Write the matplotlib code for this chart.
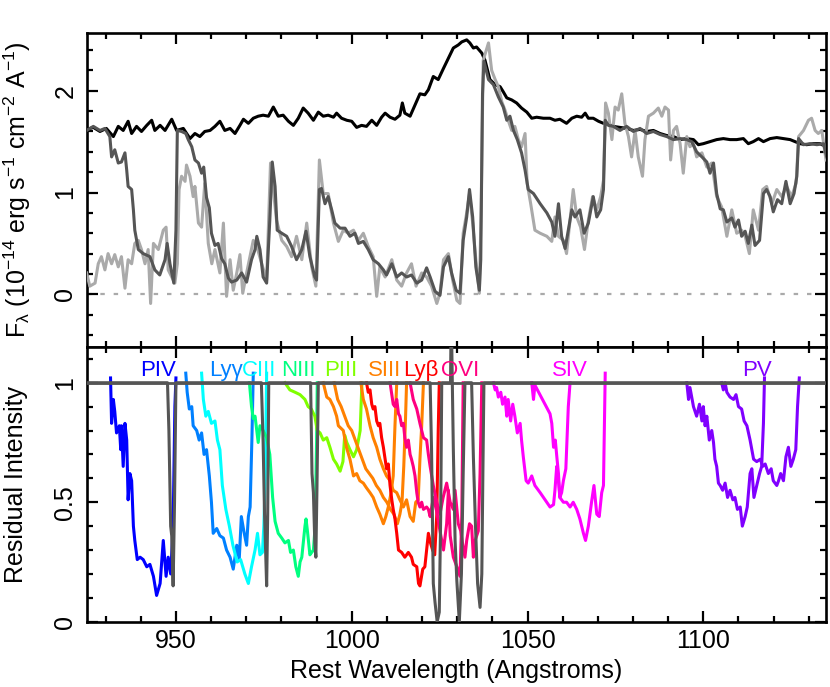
import numpy as np
import matplotlib
matplotlib.use('Agg')
import matplotlib.pyplot as plt
from matplotlib.ticker import MultipleLocator

plt.rcParams['font.family'] = ['Liberation Sans', 'DejaVu Sans']
plt.rcParams['mathtext.fontset'] = 'custom'
plt.rcParams['mathtext.rm'] = 'Liberation Sans'
plt.rcParams['mathtext.it'] = 'Liberation Sans:italic'
plt.rcParams['mathtext.default'] = 'regular'

# ---- top panel: flux spectra (wavelength, flux) ----
continuum = np.array([
    (924.7, 1.62), (926.5, 1.64), (928.4, 1.60), (930.2, 1.63), (932.2, 1.55), (933.6, 1.65), (935.0, 1.61),
    (936.4, 1.70), (937.4, 1.58), (938.8, 1.65), (940.2, 1.60), (941.7, 1.66), (943.1, 1.71), (944.0, 1.61),
    (945.5, 1.66), (946.9, 1.61), (948.8, 1.72), (950.2, 1.61), (952.1, 1.63), (954.0, 1.53), (955.4, 1.58),
    (956.8, 1.55), (958.2, 1.60), (959.7, 1.61), (961.1, 1.65), (962.5, 1.70), (963.9, 1.61), (965.4, 1.63),
    (966.8, 1.58), (968.2, 1.66), (969.2, 1.72), (970.6, 1.68), (972.0, 1.73), (973.4, 1.75), (974.8, 1.76),
    (976.3, 1.75), (977.7, 1.84), (979.1, 1.75), (980.5, 1.76), (982.0, 1.70), (983.4, 1.66), (984.8, 1.73),
    (986.2, 1.83), (987.6, 1.78), (989.1, 1.71), (990.5, 1.79), (991.9, 1.75), (993.3, 1.76), (994.8, 1.74),
    (995.7, 1.78), (997.1, 1.73), (998.6, 1.71), (1000.0, 1.70), (1001.4, 1.64), (1002.8, 1.66), (1004.2, 1.65),
    (1005.7, 1.71), (1007.1, 1.66), (1008.5, 1.74), (1009.5, 1.78), (1010.9, 1.74), (1012.3, 1.72), (1013.7, 1.76),
    (1014.4, 1.88), (1015.1, 1.78), (1016.6, 1.75), (1018.0, 1.86), (1019.4, 1.97), (1020.8, 1.96), (1021.8, 2.01),
    (1023.2, 2.14), (1024.6, 2.11), (1026.1, 2.22), (1027.5, 2.32), (1028.9, 2.42), (1030.3, 2.45), (1031.3, 2.48),
    (1032.7, 2.50), (1033.6, 2.47), (1034.6, 2.42), (1035.5, 2.43), (1037.0, 2.37), (1037.9, 2.30), (1039.3, 2.11),
    (1040.8, 2.06), (1042.2, 2.04), (1043.1, 1.99), (1044.1, 1.93), (1045.5, 1.91), (1046.9, 1.88), (1048.3, 1.83),
    (1049.8, 1.79), (1051.2, 1.73), (1052.6, 1.74), (1054.5, 1.73), (1056.4, 1.73), (1057.8, 1.71), (1059.2, 1.72),
    (1061.1, 1.68), (1062.6, 1.73), (1064.0, 1.75), (1065.4, 1.74), (1066.4, 1.78), (1067.3, 1.73), (1068.7, 1.73),
    (1070.2, 1.70), (1071.6, 1.68), (1073.0, 1.67), (1074.4, 1.65), (1076.3, 1.64), (1078.2, 1.63), (1080.1, 1.61),
    (1082.0, 1.62), (1083.9, 1.60), (1085.8, 1.61), (1087.7, 1.58), (1089.6, 1.56), (1091.5, 1.55), (1093.4, 1.52),
    (1095.3, 1.53), (1097.2, 1.52), (1098.6, 1.47), (1100.0, 1.48), (1101.9, 1.50), (1103.8, 1.52), (1105.7, 1.53),
    (1107.6, 1.52), (1109.5, 1.52), (1111.4, 1.53), (1112.8, 1.48), (1114.2, 1.50), (1115.7, 1.53), (1117.1, 1.50),
    (1119.0, 1.53), (1120.9, 1.54), (1122.8, 1.53), (1124.7, 1.52), (1126.1, 1.50), (1127.5, 1.48), (1129.4, 1.47),
    (1131.3, 1.48), (1133.2, 1.48), (1134.9, 1.45)])

epoch_dark = np.array([
    (924.6, 1.61), (926.5, 1.65), (928.4, 1.61), (929.8, 1.63), (931.2, 1.55), (931.7, 1.35), (932.6, 1.42),
    (933.6, 1.29), (934.5, 1.30), (935.5, 1.39), (936.0, 1.22), (936.4, 1.06), (937.4, 1.03), (937.9, 0.83),
    (938.3, 0.63), (939.3, 0.44), (940.7, 0.40), (942.6, 0.37), (944.0, 0.24), (945.4, 0.19), (946.9, 0.34),
    (947.5, 0.50), (948.3, 0.30), (949.4, 0.11), (950.0, 0.63), (950.4, 1.61), (951.6, 1.60), (952.8, 1.58),
    (953.5, 1.52), (954.5, 1.45), (955.4, 1.32), (956.4, 1.29), (957.3, 1.19), (957.9, 1.25), (958.7, 0.95),
    (959.5, 0.85), (960.1, 0.60), (961.1, 0.48), (962.0, 0.50), (963.0, 0.35), (963.9, 0.30), (964.9, 0.16),
    (965.8, 0.12), (967.3, 0.14), (968.7, 0.21), (970.1, 0.12), (971.5, 0.34), (972.5, 0.44), (973.0, 0.57),
    (973.9, 0.44), (974.8, 0.17), (975.8, 0.11), (976.7, 0.73), (977.4, 1.30), (978.2, 1.06), (978.8, 0.63),
    (980.1, 0.60), (981.5, 0.57), (982.9, 0.47), (984.3, 0.34), (985.8, 0.44), (987.0, 0.62), (988.1, 0.37),
    (989.5, 0.17), (990.0, 0.14), (990.8, 1.03), (991.4, 1.04), (992.4, 0.89), (993.3, 0.96), (994.3, 0.83),
    (995.2, 0.70), (996.7, 0.65), (998.1, 0.65), (999.5, 0.57), (1000.9, 0.60), (1001.9, 0.50), (1003.3, 0.52),
    (1004.7, 0.44), (1006.1, 0.34), (1007.6, 0.30), (1009.0, 0.24), (1009.9, 0.19), (1011.4, 0.30), (1012.8, 0.17),
    (1014.2, 0.21), (1015.6, 0.17), (1017.0, 0.19), (1018.5, 0.11), (1019.9, 0.14), (1021.3, 0.26), (1022.3, 0.17),
    (1023.7, 0.03), (1025.1, -0.01), (1026.1, 0.27), (1027.5, 0.37), (1028.4, 0.21), (1029.7, 0.04), (1030.8, 0.01),
    (1031.7, 0.53), (1032.7, 0.76), (1033.5, 1.03), (1034.4, 0.76), (1035.3, 0.27), (1036.3, 0.04), (1036.7, 0.34),
    (1037.2, 1.97), (1037.6, 2.29), (1038.9, 2.11), (1040.3, 2.06), (1041.7, 1.94), (1043.1, 1.84), (1044.1, 1.71),
    (1045.0, 1.75), (1046.0, 1.61), (1047.1, 1.52), (1048.3, 1.39), (1049.3, 1.22), (1050.2, 1.03), (1051.7, 0.99),
    (1053.6, 0.89), (1055.5, 0.80), (1056.9, 0.71), (1057.8, 0.57), (1058.8, 0.89), (1059.7, 0.57), (1060.7, 0.45),
    (1061.6, 0.63), (1062.6, 0.83), (1063.5, 0.76), (1064.9, 0.83), (1066.1, 0.60), (1067.3, 0.70), (1068.7, 0.96),
    (1069.7, 0.76), (1070.8, 0.83), (1071.6, 1.03), (1072.1, 1.71), (1073.0, 1.66), (1074.4, 1.65), (1076.3, 1.61),
    (1078.2, 1.65), (1080.1, 1.60), (1082.0, 1.63), (1083.9, 1.58), (1085.8, 1.60), (1087.7, 1.57), (1089.6, 1.55),
    (1091.5, 1.52), (1093.4, 1.53), (1095.3, 1.52), (1096.7, 1.50), (1098.1, 1.40), (1099.6, 1.35), (1101.0, 1.30),
    (1101.9, 1.19), (1102.9, 1.29), (1103.8, 0.99), (1104.8, 0.84), (1105.7, 0.83), (1106.7, 0.71), (1108.1, 0.75),
    (1109.0, 0.66), (1110.0, 0.73), (1110.9, 0.57), (1111.9, 0.62), (1112.8, 0.50), (1113.8, 0.68), (1114.7, 0.48),
    (1116.0, 0.53), (1117.1, 0.99), (1118.0, 1.03), (1119.0, 0.96), (1119.9, 0.81), (1121.1, 0.93), (1122.3, 0.89),
    (1123.5, 1.11), (1124.7, 0.89), (1125.8, 0.99), (1126.6, 1.16), (1127.1, 1.53), (1128.5, 1.47), (1130.4, 1.48),
    (1132.3, 1.47), (1134.2, 1.48), (1135.1, 1.35)])

epoch_light = np.array([
    (924.6, 0.21), (925.5, 0.08), (927.0, 0.11), (927.9, 0.30), (928.8, 0.37), (929.8, 0.24), (930.7, 0.40),
    (931.7, 0.30), (932.6, 0.39), (933.6, 0.27), (934.5, 0.37), (935.5, 0.06), (936.4, 0.34), (937.4, 0.30),
    (938.3, 0.50), (939.3, 0.53), (940.2, 0.44), (941.2, 0.30), (942.1, 0.44), (942.8, -0.09), (943.6, 0.50),
    (945.0, 0.44), (946.4, 0.63), (947.2, 0.66), (947.8, 0.24), (948.8, 0.17), (949.7, 0.11), (950.4, 0.30),
    (950.9, 1.03), (951.6, 1.16), (952.6, 1.11), (953.0, 1.27), (954.0, 1.16), (954.9, 0.96), (955.4, 1.06),
    (956.4, 0.70), (957.3, 0.66), (958.2, 1.09), (959.2, 0.50), (960.2, 0.30), (961.1, 0.44), (962.5, 0.21),
    (963.5, 0.70), (964.4, -0.02), (965.4, 0.34), (966.3, 0.04), (967.3, 0.21), (968.2, 0.39), (969.0, 0.01),
    (970.1, 0.21), (972.0, 0.53), (973.0, 0.47), (974.4, 0.30), (975.8, 0.14), (976.9, 1.29), (977.7, 1.03),
    (978.6, 0.73), (980.1, 0.53), (981.5, 0.47), (982.9, 0.37), (984.3, 0.57), (985.8, 0.34), (987.2, 0.70),
    (988.6, 0.27), (989.8, 0.08), (990.8, 1.32), (991.9, 0.99), (993.3, 0.99), (994.8, 0.70), (996.2, 0.52),
    (997.6, 0.63), (999.0, 0.60), (1000.5, 0.63), (1001.9, 0.53), (1003.3, 0.60), (1004.7, 0.47), (1006.1, 0.37),
    (1007.1, -0.02), (1008.0, 0.27), (1009.5, 0.17), (1011.4, 0.34), (1012.8, 0.14), (1014.2, 0.08), (1015.6, 0.21),
    (1017.0, 0.30), (1018.3, 0.08), (1019.9, 0.21), (1021.3, 0.17), (1022.7, 0.08), (1024.2, -0.09), (1025.1, 0.01),
    (1026.1, 0.34), (1027.5, 0.40), (1028.7, 0.14), (1029.9, -0.06), (1030.8, -0.09), (1031.7, 0.60), (1032.7, 0.80),
    (1033.5, 0.99), (1034.4, 0.70), (1035.3, 0.34), (1036.3, 0.01), (1036.8, 0.83), (1037.4, 2.30), (1038.9, 2.47),
    (1039.8, 2.20), (1040.8, 2.11), (1041.7, 2.04), (1042.7, 1.89), (1043.6, 1.81), (1044.5, 1.71), (1045.5, 1.61),
    (1046.4, 1.65), (1047.4, 1.52), (1048.3, 1.45), (1049.3, 1.58), (1049.9, 1.09), (1050.9, 0.89), (1052.1, 0.63),
    (1053.6, 0.60), (1055.5, 0.57), (1056.9, 0.52), (1057.8, 0.76), (1058.8, 0.57), (1060.2, 0.53), (1061.1, 0.40),
    (1062.1, 0.73), (1063.0, 1.03), (1064.0, 0.76), (1065.1, 0.66), (1066.2, 0.44), (1067.3, 0.73), (1068.5, 0.96),
    (1069.7, 0.83), (1070.8, 0.96), (1071.6, 1.12), (1072.2, 1.88), (1073.0, 1.78), (1074.0, 1.52), (1074.9, 1.84),
    (1075.8, 1.81), (1076.8, 1.97), (1077.7, 1.68), (1078.7, 1.55), (1079.6, 1.35), (1080.6, 1.61), (1081.5, 1.35),
    (1082.7, 1.16), (1083.4, 1.52), (1084.4, 1.75), (1085.8, 1.78), (1087.2, 1.83), (1088.2, 1.75), (1089.1, 1.84),
    (1090.1, 1.81), (1090.7, 1.32), (1091.5, 1.61), (1092.4, 1.65), (1093.4, 1.48), (1094.3, 1.19), (1095.3, 1.55),
    (1096.2, 1.45), (1097.2, 1.48), (1098.1, 1.35), (1099.6, 1.39), (1101.0, 1.25), (1102.4, 1.29), (1103.8, 0.96),
    (1105.2, 0.86), (1106.7, 0.57), (1108.1, 0.83), (1109.5, 0.60), (1110.9, 0.63), (1111.9, 0.57), (1113.1, 0.40),
    (1114.2, 0.83), (1115.7, 0.63), (1116.9, 1.03), (1118.0, 1.06), (1119.5, 0.89), (1120.9, 1.03), (1122.3, 0.96),
    (1123.7, 1.06), (1125.1, 0.96), (1126.4, 1.09), (1127.1, 1.55), (1128.5, 1.61), (1129.9, 1.71), (1130.8, 1.73),
    (1131.8, 1.61), (1132.7, 1.58), (1133.7, 1.61), (1134.9, 1.32)])

# ---- bottom panel: residual intensity troughs (wavelength, residual) ----
piv = np.array([(931.4, 1.02), (931.7, 0.83), (932.2, 0.93), (932.6, 0.88), (933.1, 0.79), (933.9, 0.82),
                (934.3, 0.72), (934.5, 0.82), (935.0, 0.65), (935.5, 0.83), (936.0, 0.76), (936.4, 0.51),
                (936.9, 0.62), (937.4, 0.59), (937.9, 0.40), (938.3, 0.34), (939.0, 0.26), (939.8, 0.27),
                (940.7, 0.26), (941.7, 0.23), (942.6, 0.24), (943.6, 0.19), (944.5, 0.11), (945.5, 0.16),
                (946.4, 0.34), (947.2, 0.19), (947.8, 0.27), (948.5, 0.20), (949.2, 0.40), (949.7, 0.90),
                (950.0, 1.02)])
lyg = np.array([(952.8, 1.04), (953.2, 0.96), (953.8, 0.89), (954.5, 0.90), (954.9, 0.82), (955.9, 0.80),
                (956.6, 0.76), (957.3, 0.79), (958.0, 0.70), (958.7, 0.72), (959.5, 0.61), (960.1, 0.50),
                (960.6, 0.37), (961.6, 0.39), (962.5, 0.36), (963.5, 0.35), (964.4, 0.30), (965.4, 0.27),
                (966.3, 0.22), (967.3, 0.32), (968.0, 0.26), (968.6, 0.44), (969.3, 0.38), (970.1, 0.32),
                (970.6, 0.44), (971.1, 0.48), (971.6, 0.76), (972.0, 1.04)])
ciii = np.array([(957.3, 1.04), (957.8, 0.93), (958.5, 0.86), (959.2, 0.88), (960.1, 0.83), (961.1, 0.84),
                 (961.8, 0.76), (962.5, 0.72), (963.2, 0.57), (964.2, 0.47), (965.2, 0.40), (966.2, 0.32),
                 (967.4, 0.25), (968.4, 0.26), (969.6, 0.20), (970.6, 0.16), (971.5, 0.23), (972.5, 0.30),
                 (973.2, 0.37), (973.9, 0.28), (974.6, 0.29), (975.0, 0.40), (975.4, 0.60), (975.8, 1.04)])
niii = np.array([(970.9, 1.00), (971.5, 0.90), (972.0, 0.85), (972.5, 0.86), (973.4, 0.75), (973.9, 0.82),
                 (974.8, 0.80), (975.8, 0.77), (976.7, 0.70), (977.5, 0.52), (978.2, 0.42), (979.1, 0.37),
                 (980.1, 0.35), (981.0, 0.33), (982.0, 0.34), (982.6, 0.29), (983.4, 0.30), (984.1, 0.23),
                 (984.8, 0.19), (985.3, 0.25), (985.8, 0.27), (986.7, 0.40), (987.0, 0.43), (987.4, 0.38),
                 (988.1, 0.28), (988.6, 0.29), (989.1, 0.30), (989.6, 0.40), (990.0, 0.75), (990.2, 1.00)])
piii = np.array([(981.0, 1.00), (982.4, 0.97), (983.9, 0.96), (985.3, 0.95), (986.7, 0.93), (987.6, 0.90),
                 (988.5, 0.89), (989.5, 0.86), (990.2, 0.80), (991.0, 0.79), (991.9, 0.76), (992.9, 0.77),
                 (993.8, 0.73), (994.8, 0.68), (995.7, 0.66), (996.7, 0.63), (997.5, 0.67), (998.0, 0.78),
                 (998.6, 0.75), (999.5, 0.72), (1000.5, 0.69), (1001.4, 0.72), (1002.4, 0.80), (1002.9, 1.00)])
siii_a = np.array([(991.9, 1.00), (992.9, 0.94), (993.8, 0.93), (994.8, 0.90), (995.7, 0.86), (996.2, 0.82),
                   (997.6, 0.80), (998.5, 0.73), (999.5, 0.68), (1000.5, 0.61), (1001.4, 0.62), (1002.3, 0.59),
                   (1003.3, 0.58), (1004.2, 0.56), (1005.2, 0.54), (1006.1, 0.52), (1007.1, 0.48), (1008.0, 0.45),
                   (1009.0, 0.41), (1009.7, 0.44), (1010.4, 0.48), (1011.2, 0.54), (1011.8, 0.61), (1012.3, 0.82),
                   (1012.8, 1.00)])
siii_b = np.array([(995.0, 1.00), (996.0, 0.93), (997.0, 0.90), (998.0, 0.86), (999.0, 0.82), (1000.0, 0.80),
                   (1001.0, 0.76), (1002.0, 0.72), (1003.0, 0.68), (1004.0, 0.64), (1005.0, 0.62), (1006.0, 0.60),
                   (1007.0, 0.57), (1008.0, 0.55), (1009.0, 0.52), (1010.0, 0.50), (1011.0, 0.47), (1012.0, 0.45),
                   (1013.0, 0.41), (1013.7, 0.45), (1014.3, 0.50), (1014.8, 0.65), (1015.3, 0.85), (1015.6, 1.00)])
siii_c = np.array([(1002.6, 1.00), (1003.3, 0.93), (1004.2, 0.89), (1005.2, 0.82), (1006.1, 0.77), (1007.1, 0.73),
                   (1008.0, 0.68), (1009.0, 0.64), (1009.9, 0.61), (1010.9, 0.59), (1011.8, 0.55), (1012.8, 0.54),
                   (1013.7, 0.51), (1014.7, 0.48), (1015.6, 0.51), (1016.6, 0.44), (1017.5, 0.42), (1018.2, 0.50),
                   (1018.9, 0.51), (1019.4, 0.68), (1019.9, 0.82), (1020.4, 1.00)])
lyb = np.array([(1004.2, 1.00), (1004.7, 0.96), (1005.2, 0.97), (1005.7, 0.91), (1006.1, 0.89), (1006.6, 0.90),
                (1007.1, 0.84), (1007.6, 0.82), (1008.0, 0.83), (1008.5, 0.77), (1009.0, 0.73), (1009.5, 0.68),
                (1009.9, 0.64), (1010.4, 0.66), (1010.9, 0.57), (1011.4, 0.51), (1011.8, 0.47), (1012.3, 0.43),
                (1012.8, 0.37), (1013.3, 0.30), (1014.2, 0.29), (1015.1, 0.27), (1016.1, 0.29), (1017.0, 0.27),
                (1017.5, 0.24), (1018.5, 0.23), (1019.0, 0.16), (1019.4, 0.15), (1020.2, 0.22), (1020.8, 0.23),
                (1021.3, 0.30), (1021.8, 0.37), (1022.4, 0.33), (1023.0, 0.30), (1023.6, 0.28), (1024.2, 0.45),
                (1024.6, 0.80), (1024.9, 1.00)])
ovi_a = np.array([(1010.9, 1.00), (1011.8, 0.91), (1012.3, 0.90), (1012.8, 0.93), (1013.3, 0.87), (1013.7, 0.86),
                  (1014.2, 0.82), (1014.7, 0.83), (1015.1, 0.77), (1015.6, 0.73), (1016.1, 0.76), (1016.6, 0.70),
                  (1017.0, 0.68), (1017.5, 0.65), (1018.0, 0.61), (1018.5, 0.54), (1018.9, 0.50), (1019.4, 0.48),
                  (1019.9, 0.50), (1020.4, 0.47), (1021.3, 0.48), (1021.8, 0.47), (1022.3, 0.44), (1023.2, 0.52),
                  (1024.2, 0.46), (1025.1, 0.38), (1026.1, 0.30), (1027.0, 0.41), (1027.5, 0.55), (1028.0, 0.36),
                  (1028.9, 0.27), (1029.9, 0.23), (1030.8, 0.19), (1031.3, 0.44), (1031.7, 1.00)])
ovi_b = np.array([(1016.6, 1.00), (1017.5, 0.93), (1018.5, 0.89), (1019.4, 0.83), (1020.4, 0.77), (1021.3, 0.76),
                  (1021.8, 0.70), (1022.3, 0.65), (1023.2, 0.57), (1024.2, 0.50), (1025.1, 0.45), (1026.0, 0.52),
                  (1027.0, 0.58), (1028.0, 0.50), (1028.9, 0.47), (1029.4, 0.55), (1030.3, 0.41), (1031.0, 0.38),
                  (1031.6, 0.32), (1032.2, 0.27), (1032.7, 0.34), (1033.5, 0.41), (1034.1, 0.40), (1034.6, 0.27),
                  (1035.1, 0.34), (1036.0, 0.38), (1036.5, 0.62), (1037.0, 1.00)])
siv_a = np.array([(1040.3, 1.00), (1040.8, 0.97), (1041.2, 0.98), (1041.7, 0.94), (1042.4, 0.96), (1042.9, 0.91),
                  (1043.6, 0.94), (1044.1, 0.86), (1044.5, 0.93), (1045.2, 0.84), (1045.8, 0.91), (1046.4, 0.86),
                  (1047.1, 0.79), (1047.9, 0.83), (1048.3, 0.76), (1048.8, 0.69), (1049.6, 0.59), (1050.2, 0.58),
                  (1051.2, 0.61), (1052.1, 0.57), (1053.6, 0.54), (1055.0, 0.51), (1056.4, 0.48), (1057.4, 0.49),
                  (1057.8, 0.55), (1058.3, 0.65), (1058.8, 0.59), (1059.2, 0.52), (1059.7, 0.54), (1060.2, 0.59),
                  (1060.9, 0.64), (1061.6, 0.90), (1062.1, 1.00)])
siv_b = np.array([(1051.2, 1.00), (1051.7, 0.93), (1052.1, 0.99), (1056.4, 0.87), (1056.9, 0.83), (1057.4, 0.73),
                  (1057.9, 0.76), (1058.4, 0.68), (1058.8, 0.62), (1059.2, 0.52), (1060.2, 0.50), (1061.1, 0.50),
                  (1062.1, 0.48), (1063.0, 0.50), (1064.0, 0.47), (1064.9, 0.43), (1065.9, 0.37), (1066.5, 0.34),
                  (1067.3, 0.40), (1068.3, 0.51), (1068.9, 0.57), (1069.7, 0.45), (1070.4, 0.44), (1071.1, 0.54),
                  (1071.6, 0.57), (1072.1, 1.04)])
pv_a = np.array([(1095.3, 1.00), (1095.8, 0.93), (1096.2, 0.98), (1097.2, 0.90), (1098.1, 0.86), (1098.9, 0.91),
                 (1099.6, 0.84), (1100.0, 0.90), (1100.5, 0.82), (1101.0, 0.86), (1101.7, 0.76), (1102.4, 0.80),
                 (1102.9, 0.75), (1103.3, 0.68), (1103.8, 0.65), (1104.3, 0.58), (1104.8, 0.57), (1105.5, 0.55),
                 (1106.2, 0.58), (1106.9, 0.52), (1107.6, 0.55), (1108.4, 0.51), (1109.0, 0.52), (1109.7, 0.47),
                 (1110.5, 0.48), (1111.1, 0.40), (1111.9, 0.44), (1112.5, 0.48), (1113.3, 0.62), (1113.8, 0.64),
                 (1114.4, 0.52), (1115.2, 0.57), (1116.0, 0.62), (1116.6, 0.65), (1117.1, 0.83), (1117.4, 1.02)])
pv_b = np.array([(1105.2, 1.00), (1105.7, 0.97), (1106.2, 1.00), (1106.7, 0.96), (1107.6, 0.94), (1108.6, 0.93),
                 (1109.3, 0.95), (1110.0, 0.90), (1110.9, 0.89), (1111.6, 0.84), (1112.4, 0.82), (1113.3, 0.76),
                 (1113.8, 0.72), (1114.3, 0.68), (1115.2, 0.67), (1116.2, 0.68), (1116.9, 0.65), (1117.6, 0.66),
                 (1118.5, 0.62), (1119.3, 0.64), (1119.9, 0.59), (1120.9, 0.57), (1121.4, 0.59), (1122.0, 0.62),
                 (1122.8, 0.59), (1123.5, 0.69), (1124.2, 0.73), (1124.9, 0.65), (1125.6, 0.68), (1126.3, 0.72),
                 (1126.8, 0.90), (1127.3, 1.02)])
narrow_lines = np.array([(924.7, 1.0), (947.6, 1.0), (948.0, 0.80), (948.5, 0.40), (948.8, 0.36), (949.2, 0.15),
                         (949.6, 0.50), (950.0, 1.0), (974.3, 1.0), (974.8, 0.75), (975.2, 0.45), (975.5, 0.30),
                         (975.8, 0.15), (976.1, 0.45), (976.4, 1.0), (988.3, 1.0), (988.7, 0.62), (989.1, 0.54),
                         (989.5, 0.33), (989.8, 0.27), (990.1, 0.55), (990.5, 1.0), (1022.3, 1.0), (1022.7, 0.72),
                         (1023.2, 0.16), (1023.7, 0.08), (1024.3, 0.0), (1024.9, 0.04), (1025.3, 0.44), (1025.6, 1.0),
                         (1028.1, 1.0), (1028.3, 1.3), (1028.9, 0.72), (1029.4, 0.34), (1029.9, 0.17), (1030.6, 0.0),
                         (1031.2, 0.20), (1031.7, 0.62), (1032.2, 1.0), (1034.1, 1.0), (1034.6, 0.69), (1035.2, 0.40),
                         (1035.8, 0.16), (1036.5, 0.06), (1037.0, 0.20), (1037.3, 0.62), (1037.6, 1.0), (1134.9, 1.0)])

ion_names = ['PIV', 'Ly\u03b3', 'CIII', 'NIII', 'PIII', 'SIII', 'Ly\u03b2', 'OVI', 'SIV', 'PV']
ion_label_wl = [945.0, 964.3, 973.6, 984.8, 996.8, 1009.4, 1019.6, 1030.8, 1062.1, 1115.2]
ion_colors = ['#0000ff', '#0080ff', '#00ffff', '#00ff80', '#80ff00', '#ff8000', '#ff0000', '#ff0080',
              '#ff00ff', '#8000ff']
ion_troughs = [[piv], [lyg], [ciii], [niii], [piii], [siii_a, siii_b, siii_c], [lyb], [ovi_a, ovi_b],
               [siv_a, siv_b], [pv_a, pv_b]]

LW = 2.2

fig = plt.figure(figsize=(8.3, 6.87), dpi=100)
ax1 = fig.add_axes([0.1048, 0.4953, 0.8904, 0.4566])
ax2 = fig.add_axes([0.1048, 0.0950, 0.8904, 0.4003])

# top panel
ax1.axhline(0, color='#aaaaaa', lw=1.6, ls=(0, (2, 4)), zorder=1)
ax1.plot(continuum[:, 0], continuum[:, 1], color='black', lw=LW, zorder=2)
ax1.plot(epoch_light[:, 0], epoch_light[:, 1], color='#aaaaaa', lw=LW, zorder=3)
ax1.plot(epoch_dark[:, 0], epoch_dark[:, 1], color='#555555', lw=LW, zorder=4)
ax1.set_ylim(-0.515, 2.567)
ax1.set_yticks([0, 1, 2])
ax1.set_yticklabels(['0', '1', '2'])
ax1.yaxis.set_minor_locator(MultipleLocator(0.2))
ax1.set_ylabel(r'F$_\lambda$ (10$^{-14}$ erg s$^{-1}$ cm$^{-2}$ A$^{-1}$)', fontsize=18)
ax1.yaxis.set_label_coords(-0.0725, 0.5)

# bottom panel
for name, wl, col, parts in zip(ion_names, ion_label_wl, ion_colors, ion_troughs):
    for t in parts:
        ax2.plot(t[:, 0], t[:, 1], color=col, lw=LW, zorder=2)
    ax2.text(wl, 1.03, name, color=col, fontsize=16, ha='center', va='baseline', zorder=5)
ax2.plot(narrow_lines[:, 0], narrow_lines[:, 1], color='#555555', lw=LW, zorder=3)
ax2.axhline(1, color='#555555', lw=2.0, zorder=4)
ax2.set_ylim(0, 1.1506)
ax2.set_yticks([0, 0.5, 1])
ax2.set_yticklabels(['0', '0.5', '1'])
ax2.yaxis.set_minor_locator(MultipleLocator(0.1))
ax2.set_ylabel('Residual Intensity', fontsize=18)
ax2.yaxis.set_label_coords(-0.0798, 0.5)
ax2.set_xlabel('Rest Wavelength (Angstroms)', fontsize=18)
ax2.xaxis.set_label_coords(0.5, -0.136)

for ax in (ax1, ax2):
    ax.set_xlim(924.7, 1134.9)
    ax.xaxis.set_major_locator(MultipleLocator(50))
    ax.xaxis.set_minor_locator(MultipleLocator(10))
    ax.tick_params(which='both', direction='in', top=True, right=True, width=1.6, labelsize=18)
    ax.tick_params(which='major', length=8)
    ax.tick_params(which='minor', length=4.5)
    ax.tick_params(axis='y', labelrotation=90, pad=7)
    ax.tick_params(axis='x', pad=5)
    for sp in ax.spines.values():
        sp.set_linewidth(1.9)
    for lab in ax.get_yticklabels():
        lab.set_va('center')
ax1.tick_params(axis='x', labelbottom=False)

fig.savefig('out.png', dpi=100)
